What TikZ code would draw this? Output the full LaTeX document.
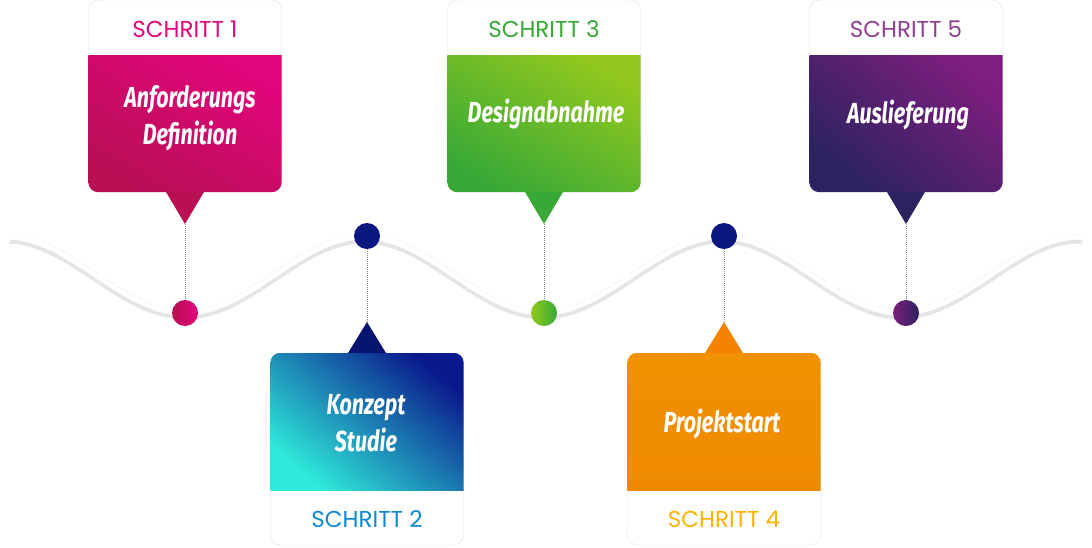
\documentclass[tikz,border=0pt]{standalone}
\usepackage{fontspec}
\newfontfamily\headfont{Poppins}
\newfontfamily\titlefont[FakeStretch=0.74]{Fira Sans}
\usetikzlibrary{positioning}
\definecolor{pinkA}{HTML}{E2057C}\definecolor{pinkB}{HTML}{B80F55}
\definecolor{navyA}{HTML}{0A1A8C}\definecolor{navyB}{HTML}{2EEADA}
\definecolor{greenA}{HTML}{92C81E}\definecolor{greenB}{HTML}{38A936}
\definecolor{orangeA}{HTML}{F29100}\definecolor{orangeB}{HTML}{EF8A00}
\definecolor{purpA}{HTML}{7E1E7E}\definecolor{purpB}{HTML}{2A2360}
\tikzset{
  frame/.style={draw=black!12, fill=white, rounded corners=10pt, minimum width=193pt, minimum height=192pt},
  head/.style={font=\headfont\fontsize{23}{26}\selectfont},
  title/.style={text=white, align=center, font=\titlefont\bfseries\itshape\fontsize{29}{37}\selectfont},
  dot/.style={circle, minimum size=26pt, inner sep=0pt},
  pin/.style={densely dotted, black!45, line width=1pt}
}
\begin{document}
\begin{tikzpicture}[x=1pt,y=-1pt]
  \useasboundingbox (0,0) rectangle (1092,547);
  % wave
  \draw[black!10, line width=9pt] plot[domain=10:1082, samples=150, smooth] (\x,{277+38*cos((\x-185)/358*360)});
  \draw[white, line width=5pt] plot[domain=10:1082, samples=150, smooth] (\x,{275+38*cos((\x-185)/358*360)});

  % upper boxes
  \node[frame](box1) at (185,96){};
  \node[frame](box3) at (544,96){};
  \node[frame](box5) at (906,96){};
  \node[frame](box2) at (367,449){};
  \node[frame](box4) at (724,449){};
  \begin{scope}
    \clip[rounded corners=10pt] (box1.north west) rectangle (box1.south east);
    \shade[top color=pinkA, bottom color=pinkB, shading angle=-30] (88,55) rectangle (282,193);
  \end{scope}
  \begin{scope}
    \clip[rounded corners=10pt] (box3.north west) rectangle (box3.south east);
    \shade[top color=greenA, bottom color=greenB, shading angle=-30] (447,55) rectangle (641,193);
  \end{scope}
  \begin{scope}
    \clip[rounded corners=10pt] (box5.north west) rectangle (box5.south east);
    \shade[top color=purpA, bottom color=purpB, shading angle=-40] (809,55) rectangle (1003,193);
  \end{scope}
  \begin{scope}
    \clip[rounded corners=10pt] (box2.north west) rectangle (box2.south east);
    \shade[top color=navyA, bottom color=navyB, shading angle=-40] (270,353) rectangle (464,490);
  \end{scope}
  \begin{scope}
    \clip[rounded corners=10pt] (box4.north west) rectangle (box4.south east);
    \shade[top color=orangeA, bottom color=orangeB] (627,353) rectangle (821,490);
  \end{scope}

  \node[head, text=pinkA](h1) at (185,29){SCHRITT 1};
  \node[head, text=greenB](h3) at (544,29){SCHRITT 3};
  \node[head, text=purpA!85](h5) at (906,29){SCHRITT 5};
  \node[head, text=cyan!70!blue](h2) at (367,519){SCHRITT 2};
  \node[head, text=orange!60!yellow](h4) at (724,519){SCHRITT 4};

  \node[title](t1) at (190,118){Anforderungs\\Definition};
  \node[title](t3) at (546,114){Designabnahme};
  \node[title](t5) at (908,115){Auslieferung};
  \node[title](t2) at (366,423){Konzept\\Studie};
  \node[title](t4) at (722,424){Projektstart};

  % pointers
  \fill[pinkB] (166,192) -- (204,192) -- (185,224) coordinate(p1) -- cycle;
  \fill[greenB] (525,192) -- (563,192) -- (544,224) coordinate(p3) -- cycle;
  \fill[purpB] (887,192) -- (925,192) -- (906,224) coordinate(p5) -- cycle;
  \fill[navyA!80!black] (348,353) -- (386,353) -- (367,322) coordinate(p2) -- cycle;
  \fill[orangeA!90!red] (705,353) -- (743,353) -- (724,322) coordinate(p4) -- cycle;

  \node[dot, left color=pinkB, right color=pinkA](c1) at (185,313){};
  \node[dot, left color=greenA, right color=greenB](c3) at (544,313){};
  \node[dot, left color=purpA, right color=purpB](c5) at (906,313){};
  \node[dot, fill=navyA!90!black](c2) at (367,236){};
  \node[dot, fill=navyA!90!black](c4) at (724,236){};

  \draw[pin] (p1) -- (c1);
  \draw[pin] (p3) -- (c3);
  \draw[pin] (p5) -- (c5);
  \draw[pin] (c2) -- (p2);
  \draw[pin] (c4) -- (p4);
\end{tikzpicture}
\end{document}
